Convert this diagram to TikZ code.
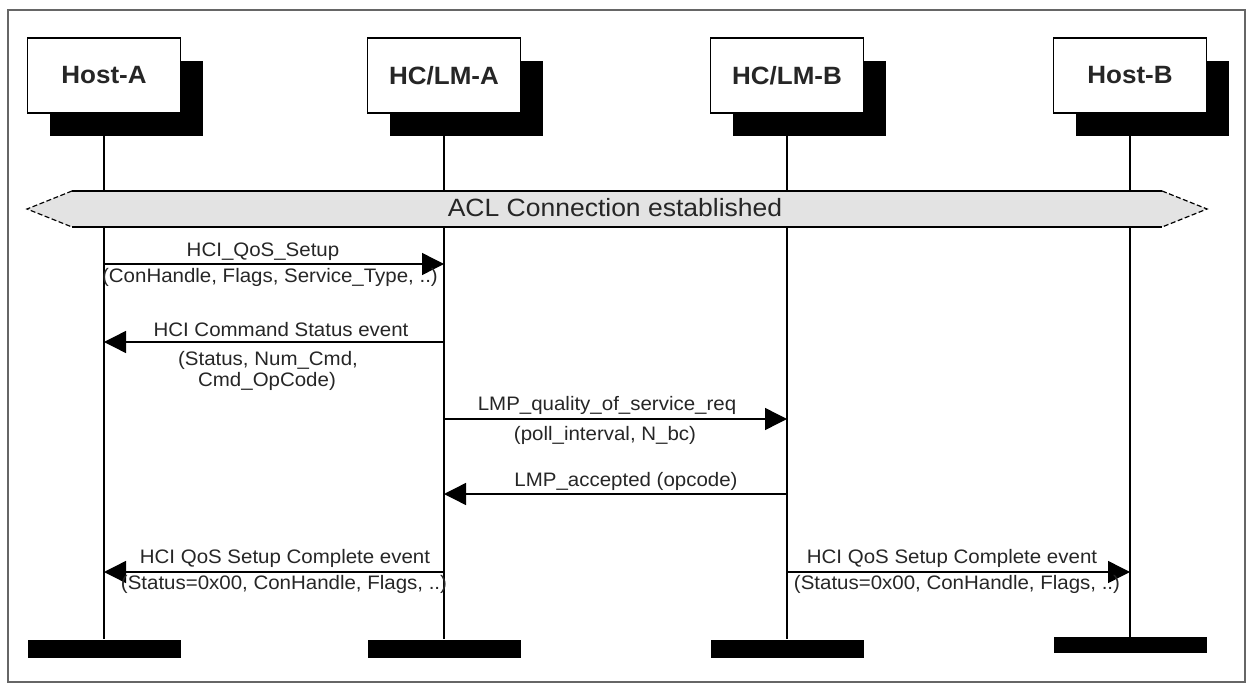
\documentclass[tikz,border=0pt]{standalone}
\usepackage{fontspec}
\setmainfont{Liberation Sans}
\newfontfamily\msgfont[FakeStretch=1.05]{Liberation Sans}
\newfontfamily\boxfont[FakeStretch=1.04]{Liberation Sans}
\newfontfamily\aclfont[FakeStretch=1.06]{Liberation Sans}
\usepackage{tikz}
\usetikzlibrary{arrows.meta,shadows}
\colorlet{textColor}{black!85}
\colorlet{bandColor}{black!11}
\colorlet{frameColor}{black!60}

\begin{document}
\begin{tikzpicture}[
x=1pt,y=-1pt,
actor/.style={draw,fill=white,line width=1.3pt,minimum width=153pt,minimum height=75pt,inner sep=0pt,
  font=\boxfont\bfseries\fontsize{25}{28}\selectfont,text=textColor,
  drop shadow={shadow xshift=22pt,shadow yshift=-23pt,fill=black,opacity=1}},
endbar/.style={fill=black,minimum width=153pt,minimum height=18pt,inner sep=0pt},
life/.style={line width=1.3pt},
msg/.style={line width=1.4pt,-{Triangle[length=22pt,width=22pt]}},
lbl/.style={font=\msgfont\fontsize{19.5}{22}\selectfont,text=textColor,inner sep=0pt,anchor=base},
]
\useasboundingbox (0,0) rectangle (1249,684);
\draw[frameColor,line width=2pt] (8,10) rectangle (1245,682);

% instances and their ends
\node[actor] (hostA) at (104,75.5) {Host-A};
\node[actor] (hclmA) at (444,75.5) {HC/LM-A};
\node[actor] (hclmB) at (787,75.5) {HC/LM-B};
\node[actor] (hostB) at (1130,75.5) {Host-B};
\node[endbar] (endA) at (104,648.5) {};
\node[endbar] (endCA) at (444,648.5) {};
\node[endbar] (endCB) at (787,648.5) {};
\node[endbar,minimum height=16pt] (endB) at (1130,645) {};
\draw[life]
    (hostA.south) -- (endA.north)
    (hclmA.south) -- (endCA.north)
    (hclmB.south) -- (endCB.north)
    (hostB.south) -- (endB.north);

% ACL band
\path[fill=bandColor] (27,209) -- (72,191) -- (1162,191) -- (1207,209) -- (1162,227) -- (72,227) -- cycle;
\draw[line width=1.3pt] (72,191) -- (1162,191) (72,227) -- (1162,227);
\draw[line width=1.2pt,dash pattern=on 5pt off 2.5pt] (72,191) -- (27,209) -- (72,227) (1162,191) -- (1207,209) -- (1162,227);
\node[font=\aclfont\fontsize{25}{28}\selectfont,text=textColor,inner sep=0pt,anchor=base] (acl) at (615,217) {ACL Connection established};

% messages
\coordinate (r1) at (0,264);
\coordinate (r2) at (0,342);
\coordinate (r3) at (0,419);
\coordinate (r4) at (0,494);
\coordinate (r5) at (0,572);
\draw[msg] (hostA |- r1) -- (hclmA |- r1);
\draw[msg] (hclmA |- r2) -- (hostA |- r2);
\draw[msg] (hclmA |- r3) -- (hclmB |- r3);
\draw[msg] (hclmB |- r4) -- (hclmA |- r4);
\draw[msg] (hclmA |- r5) -- (hostA |- r5);
\draw[msg] (hclmB |- r5) -- (hostB |- r5);

% labels
\node[lbl] (l1a) at (263,257) {HCI\_QoS\_Setup};
\node[lbl] (l1b) at (270,283) {(ConHandle, Flags, Service\_Type, ..)};
\node[lbl] (l2a) at (281,336) {HCI Command Status event};
\node[lbl] (l2b) at (268,365) {(Status, Num\_Cmd,};
\node[lbl] (l2c) at (267,386) {Cmd\_OpCode)};
\node[lbl] (l3a) at (607,410) {LMP\_quality\_of\_service\_req};
\node[lbl] (l3b) at (605,440) {(poll\_interval, N\_bc)};
\node[lbl] (l4a) at (626,486) {LMP\_accepted (opcode)};
\node[lbl] (l5a) at (285,563) {HCI QoS Setup Complete event};
\node[lbl] (l5b) at (284,589) {(Status=0x00, ConHandle, Flags, ..)};
\node[lbl] (l6a) at (952,563) {HCI QoS Setup Complete event};
\node[lbl] (l6b) at (957,589) {(Status=0x00, ConHandle, Flags, ..)};
\end{tikzpicture}
\end{document}
